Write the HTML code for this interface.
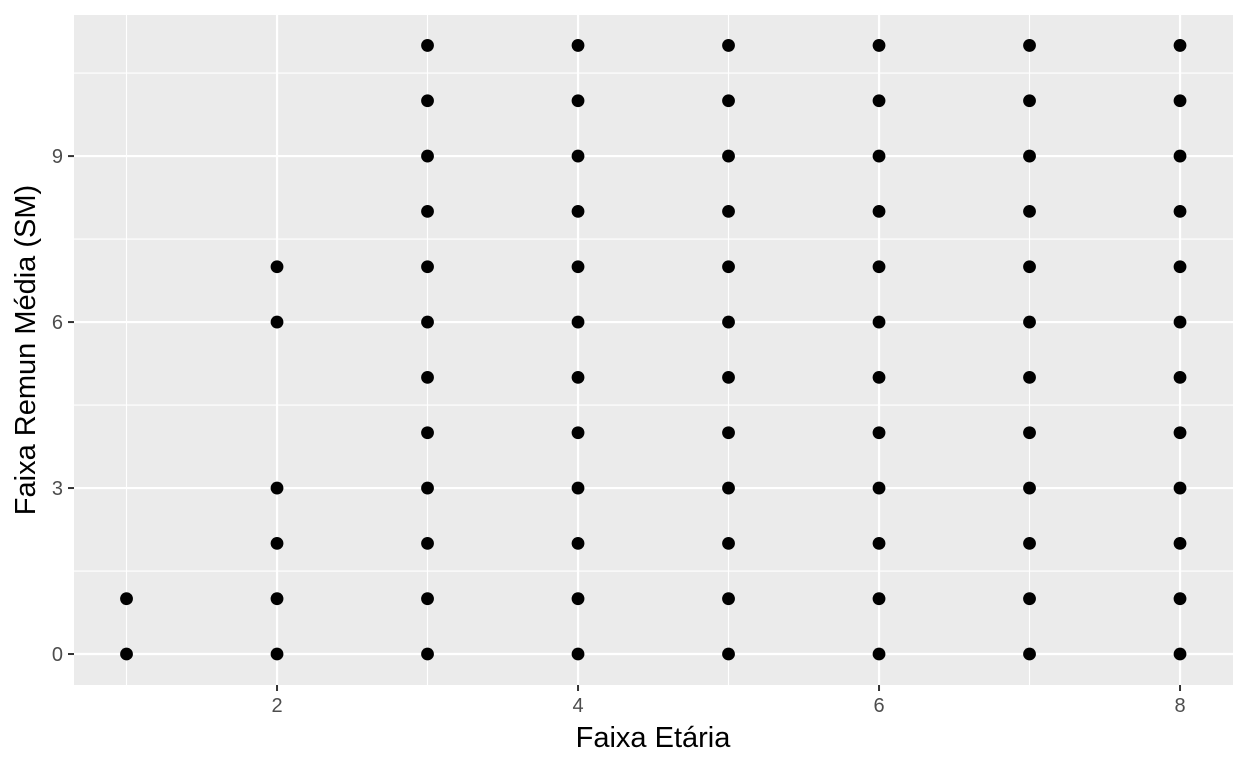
<!DOCTYPE html>
<html><head><meta charset="utf-8">
<style>
html,body{margin:0;padding:0;background:#fff;}
svg{display:block;font-family:"Liberation Sans",sans-serif;}
</style></head>
<body>
<svg id="chart" width="1248" height="768">
<rect x="74" y="15" width="1159" height="670" fill="#EBEBEB"/>
<g id="grid"></g>
<g id="points"></g>
<g id="axes"></g>
<text x="653" y="747" text-anchor="middle" font-size="29" fill="#000">Faixa Etária</text>
<text transform="translate(35,350) rotate(-90)" text-anchor="middle" font-size="29" fill="#000">Faixa Remun Média (SM)</text>
</svg>
<script>
const xs = [1,1, 2,2,2,2,2,2,
 3,3,3,3,3,3,3,3,3,3,3,3,
 4,4,4,4,4,4,4,4,4,4,4,4,
 5,5,5,5,5,5,5,5,5,5,5,5,
 6,6,6,6,6,6,6,6,6,6,6,6,
 7,7,7,7,7,7,7,7,7,7,7,7,
 8,8,8,8,8,8,8,8,8,8,8,8];
const ys = [0,1, 0,1,2,3,6,7,
 0,1,2,3,4,5,6,7,8,9,10,11,
 0,1,2,3,4,5,6,7,8,9,10,11,
 0,1,2,3,4,5,6,7,8,9,10,11,
 0,1,2,3,4,5,6,7,8,9,10,11,
 0,1,2,3,4,5,6,7,8,9,10,11,
 0,1,2,3,4,5,6,7,8,9,10,11];
const xTicks = [2,4,6,8];
const yTicks = [0,3,6,9];
const NS = "http://www.w3.org/2000/svg";
const X0=74, X1=1233, Y0=15, Y1=685;
const xMin=0.651, xMax=8.352, yMin=-0.56, yMax=11.55;
function sx(v){return X0+(v-xMin)/(xMax-xMin)*(X1-X0);}
function sy(v){return Y1-(v-yMin)/(yMax-yMin)*(Y1-Y0);}
function mk(tag, attrs, parent){const e=document.createElementNS(NS,tag);for(const k in attrs)e.setAttribute(k,attrs[k]);parent.appendChild(e);return e;}
const grid=document.getElementById('grid'), pts=document.getElementById('points'), ax=document.getElementById('axes');
for(let i=0;i<xTicks.length-1;i++){const v=(xTicks[i]+xTicks[i+1])/2;
 const l=mk('line',{x1:sx(v),x2:sx(v),y1:Y0,y2:Y1,stroke:'#fff','stroke-width':1.1},grid);
 
 }
for(const v of [xTicks[0]-1]){const l=mk('line',{x1:sx(v),x2:sx(v),y1:Y0,y2:Y1,stroke:'#fff','stroke-width':1.1},grid);
 
 }
for(let i=0;i<yTicks.length;i++){const v=yTicks[i]+1.5;
 const l=mk('line',{x1:X0,x2:X1,y1:sy(v),y2:sy(v),stroke:'#fff','stroke-width':1.1},grid);
 
 }
xTicks.forEach(v=>{
 const l=mk('line',{x1:sx(v),x2:sx(v),y1:Y0,y2:Y1,stroke:'#fff','stroke-width':2.2},grid);
 
 
 const t=mk('line',{x1:sx(v),x2:sx(v),y1:Y1,y2:Y1+6,stroke:'#333','stroke-width':2},ax);
 
 
 const tx=mk('text',{x:sx(v),y:Y1+27,'text-anchor':'middle','font-size':20,fill:'#4D4D4D'},ax);
 tx.textContent=v;
 
 
});
yTicks.forEach(v=>{
 const l=mk('line',{x1:X0,x2:X1,y1:sy(v),y2:sy(v),stroke:'#fff','stroke-width':2.2},grid);
 
 
 const t=mk('line',{x1:X0-6,x2:X0,y1:sy(v),y2:sy(v),stroke:'#333','stroke-width':2},ax);
 
 
 const tx=mk('text',{x:X0-11,y:sy(v)+7,'text-anchor':'end','font-size':20,fill:'#4D4D4D'},ax);
 tx.textContent=v;
 
 
});
xs.forEach((x,i)=>{
 const c=mk('circle',{cx:sx(x),cy:sy(ys[i]),r:6.4,fill:'#000'},pts);
 
 
});
</script>
</body></html>
